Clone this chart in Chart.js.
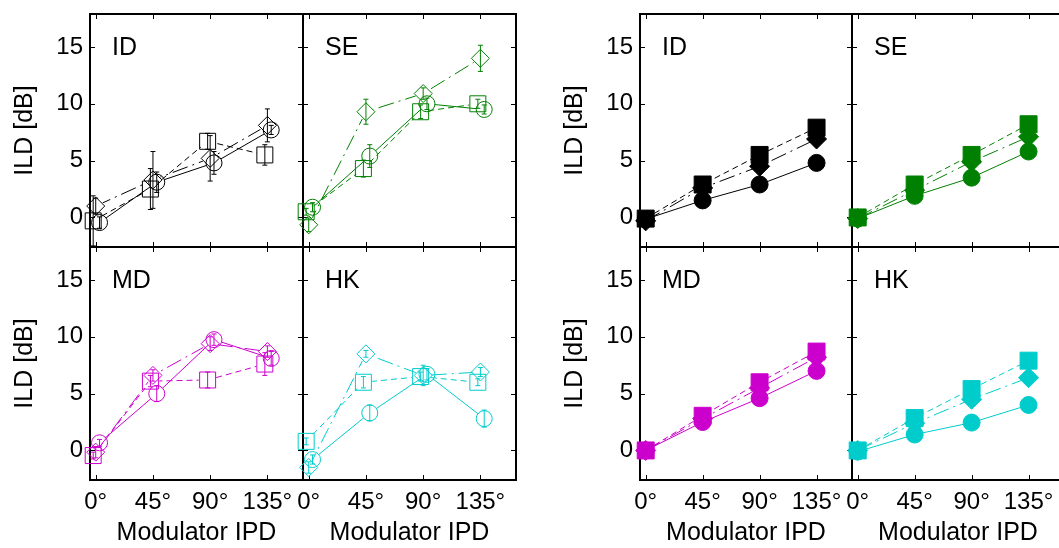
<!DOCTYPE html>
<html>
<head>
<meta charset="utf-8">
<script src="https://cdn.jsdelivr.net/npm/chart.js@4.4.0/dist/chart.umd.min.js"></script>
<style>
html, body { margin: 0; padding: 0; background: #fff; overflow: hidden; }
body { width: 1059px; height: 548px; position: relative; }
canvas { position: absolute; }
</style>
</head>
<body>
<script>
const ipd = [0, 45, 90, 135];
const ipdLabels = ['0°', '45°', '90°', '135°'];
const ildTicks = [0, 5, 10, 15];
const listeners = ['ID', 'SE', 'MD', 'HK'];
const listenerColors = ['#000000', '#008000', '#cc00cc', '#00cccc'];

// measured ILD [dB], open symbols, with error bars
const obsIdCircle = [-0.45, 3.1, 4.8, 7.7];
const obsIdCircleErr = [0.5, 0.9, 1.0, 0.4];
const obsIdSquare = [-0.3, 2.5, 6.7, 5.5];
const obsIdSquareErr = [2.2, 1.8, 0.7, 0.9];
const obsIdDiamond = [1.0, 3.3, 5.2, 8.1];
const obsIdDiamondErr = [0.7, 2.5, 2.0, 1.45];

const obsSeCircle = [0.9, 5.4, 10.0, 9.5];
const obsSeCircleErr = [0.4, 1.0, 0.5, 0.4];
const obsSeSquare = [0.5, 4.3, 9.3, 10.0];
const obsSeSquareErr = [0.3, 0.75, 0.6, 0.4];
const obsSeDiamond = [-0.65, 9.3, 10.9, 14.0];
const obsSeDiamondErr = [0.6, 1.1, 0.5, 1.15];

const obsMdCircle = [0.67, 5.0, 9.75, 8.1];
const obsMdCircleErr = [0.3, 0.7, 0.5, 0.6];
const obsMdSquare = [-0.45, 6.1, 6.2, 7.6];
const obsMdSquareErr = [0.3, 0.5, 0.7, 1.0];
const obsMdDiamond = [-0.15, 6.6, 9.4, 8.7];
const obsMdDiamondErr = [0.5, 0.5, 0.6, 0.5];

const obsHkCircle = [-0.8, 3.3, 6.7, 2.8];
const obsHkCircleErr = [0.4, 0.7, 0.5, 0.75];
const obsHkSquare = [0.8, 6.0, 6.5, 6.0];
const obsHkSquareErr = [0.3, 0.5, 0.4, 0.3];
const obsHkDiamond = [-1.5, 8.5, 6.6, 6.9];
const obsHkDiamondErr = [0.5, 0.3, 0.9, 0.4];

// predicted ILD [dB], filled symbols
const predIdCircle = [-0.15, 1.5, 2.9, 4.8];
const predIdSquare = [-0.1, 2.9, 5.5, 7.9];
const predIdDiamond = [-0.3, 2.6, 4.5, 6.9];

const predSeCircle = [-0.1, 1.9, 3.5, 5.8];
const predSeSquare = [0.0, 2.9, 5.5, 8.2];
const predSeDiamond = [-0.1, 2.4, 4.9, 7.1];

const predMdCircle = [0.0, 2.5, 4.6, 7.0];
const predMdSquare = [0.0, 3.05, 6.0, 8.7];
const predMdDiamond = [0.0, 2.8, 5.5, 8.2];

const predHkCircle = [-0.1, 1.4, 2.45, 4.0];
const predHkSquare = [0.0, 2.85, 5.4, 7.9];
const predHkDiamond = [0.0, 2.4, 4.5, 6.4];

const obsSets = [
  [obsIdCircle, obsIdCircleErr, obsIdSquare, obsIdSquareErr, obsIdDiamond, obsIdDiamondErr],
  [obsSeCircle, obsSeCircleErr, obsSeSquare, obsSeSquareErr, obsSeDiamond, obsSeDiamondErr],
  [obsMdCircle, obsMdCircleErr, obsMdSquare, obsMdSquareErr, obsMdDiamond, obsMdDiamondErr],
  [obsHkCircle, obsHkCircleErr, obsHkSquare, obsHkSquareErr, obsHkDiamond, obsHkDiamondErr]
];
const predSets = [
  [predIdCircle, predIdSquare, predIdDiamond],
  [predSeCircle, predSeSquare, predSeDiamond],
  [predMdCircle, predMdSquare, predMdDiamond],
  [predHkCircle, predHkSquare, predHkDiamond]
];

const FONT = '"Liberation Sans", Arial, sans-serif';
const MARGIN = 40;
const Y_AXIS_W = 90;
const X_AXIS_H = 75;

// box with inward ticks on all four sides + panel name
const framePlugin = {
  id: 'frame',
  beforeDatasetsDraw(chart) {
    const {ctx, chartArea: a, scales: {x, y}} = chart;
    ctx.save();
    ctx.strokeStyle = '#000';
    ctx.lineWidth = 1;
    ctx.beginPath();
    ipd.forEach(v => {
      const px = Math.round(x.getPixelForValue(v)) + 0.5;
      ctx.moveTo(px, a.bottom); ctx.lineTo(px, a.bottom - 5);
      ctx.moveTo(px, a.top); ctx.lineTo(px, a.top + 5);
    });
    ildTicks.forEach(v => {
      const py = Math.round(y.getPixelForValue(v)) + 0.5;
      ctx.moveTo(a.left, py); ctx.lineTo(a.left + 5, py);
      ctx.moveTo(a.right, py); ctx.lineTo(a.right - 5, py);
    });
    ctx.stroke();
    ctx.lineWidth = 2;
    ctx.strokeRect(a.left, a.top, a.right - a.left, a.bottom - a.top);
    ctx.fillStyle = '#000';
    ctx.font = '25px ' + FONT;
    ctx.textAlign = 'left';
    ctx.textBaseline = 'alphabetic';
    ctx.fillText(chart.options.plugins.frame.label, a.left + 22, a.top + 41);
    ctx.restore();
  }
};

// connecting lines of open symbols stop at the symbol outline
const lineGapPlugin = {
  id: 'lineGap',
  beforeDatasetDraw(chart, args) {
    const ds = chart.data.datasets[args.index];
    if (!ds.gap) return;
    const {ctx, width, height} = chart;
    ctx.save();
    ctx.beginPath();
    ctx.rect(0, 0, width, height);
    args.meta.data.forEach(pt => {
      ctx.moveTo(pt.x + ds.gap, pt.y);
      ctx.arc(pt.x, pt.y, ds.gap, 0, Math.PI * 2);
    });
    ctx.clip('evenodd');
  },
  afterDatasetDraw(chart, args) {
    if (chart.data.datasets[args.index].gap) chart.ctx.restore();
  }
};

const errorBarPlugin = {
  id: 'errorBars',
  afterDatasetsDraw(chart) {
    const {ctx, scales: {x, y}} = chart;
    chart.data.datasets.forEach(ds => {
      if (!ds.errors) return;
      ctx.save();
      ctx.strokeStyle = ds.pointBorderColor;
      ctx.lineWidth = 1;
      ds.data.forEach((p, i) => {
        const px = x.getPixelForValue(p.x);
        const lo = y.getPixelForValue(p.y - ds.errors[i]);
        const hi = y.getPixelForValue(p.y + ds.errors[i]);
        ctx.beginPath();
        ctx.moveTo(px, lo); ctx.lineTo(px, hi);
        ctx.moveTo(px - 2.5, lo); ctx.lineTo(px + 2.5, lo);
        ctx.moveTo(px - 2.5, hi); ctx.lineTo(px + 2.5, hi);
        ctx.stroke();
      });
      ctx.restore();
    });
  }
};

// marker look per condition: circle solid, square dashed, diamond dash-dot
const shapes = {
  circle: {style: 'circle', open: 8, full: 8.5, gap: 8, dash: [], shift: 3},
  square: {style: 'rect', open: 11.3, full: 12, gap: 9, dash: [6, 4], shift: -2},
  diamond: {style: 'rectRot', open: 9, full: 10, gap: 8, dash: [16, 5, 2, 5], shift: 0}
};

function openSeries(vals, errs, shapeName, color) {
  const s = shapes[shapeName];
  const pts = ipd.map((d, i) => ({x: d + s.shift, y: vals[i]}));
  return [{
    data: pts,
    gap: s.gap,
    borderColor: color,
    borderWidth: 1,
    borderDash: s.dash,
    pointRadius: 0,
    fill: false,
    clip: false
  }, {
    data: pts,
    errors: errs,
    showLine: false,
    pointStyle: s.style,
    pointRadius: s.open,
    pointBorderWidth: 1,
    pointBorderColor: color,
    pointBackgroundColor: 'rgba(0,0,0,0)',
    clip: false
  }];
}

function filledSeries(vals, shapeName, color) {
  const s = shapes[shapeName];
  return [{
    data: ipd.map((d, i) => ({x: d, y: vals[i]})),
    borderColor: color,
    borderWidth: 1,
    borderDash: s.dash,
    pointStyle: s.style,
    pointRadius: s.full,
    pointBorderWidth: 1,
    pointBorderColor: color,
    pointBackgroundColor: color,
    fill: false,
    clip: false
  }];
}

function makePanel(left, top, w, h, showY, showX, label, datasets) {
  const cv = document.createElement('canvas');
  const extraL = showY ? Y_AXIS_W : 0;
  const extraB = showX ? X_AXIS_H : 0;
  const cw = w + 2 * MARGIN + extraL;
  const ch = h + 2 * MARGIN + extraB;
  cv.width = cw; cv.height = ch;
  cv.style.left = (left - MARGIN - extraL) + 'px';
  cv.style.top = (top - MARGIN) + 'px';
  cv.style.width = cw + 'px';
  cv.style.height = ch + 'px';
  document.body.appendChild(cv);

  new Chart(cv.getContext('2d'), {
    type: 'line',
    data: {datasets: datasets},
    options: {
      responsive: false,
      animation: false,
      events: [],
      layout: {padding: MARGIN},
      plugins: {legend: {display: false}, tooltip: {enabled: false}, frame: {label: label}},
      scales: {
        x: {
          type: 'linear', min: -4.5, max: 163,
          afterBuildTicks: s => { s.ticks = ipd.map(v => ({value: v})); },
          afterFit: s => { s.height = extraB; },
          grid: {display: false, drawTicks: false},
          border: {display: false},
          ticks: {
            display: showX, padding: 8, color: '#000', autoSkip: false, maxRotation: 0,
            font: {family: FONT, size: 24},
            callback: (v, i) => ipdLabels[i]
          },
          title: {
            display: showX, text: 'Modulator IPD', color: '#000',
            font: {family: FONT, size: 25}, padding: {top: 0, bottom: 7}
          }
        },
        y: {
          type: 'linear', min: -2.6, max: 17.9,
          afterBuildTicks: s => { s.ticks = ildTicks.map(v => ({value: v})); },
          afterFit: s => { s.width = extraL; },
          grid: {display: false, drawTicks: false},
          border: {display: false},
          ticks: {
            display: showY, padding: 7, color: '#000',
            font: {family: FONT, size: 24},
            callback: v => String(v)
          },
          title: {
            display: showY, text: 'ILD [dB]', color: '#000',
            font: {family: FONT, size: 25}, padding: {top: 10, bottom: 0}
          }
        }
      }
    },
    plugins: [framePlugin, lineGapPlugin, errorBarPlugin]
  });
}

const groupLeft = [90, 640];
const groupW = [213, 212];
const rowTop = [14, 247];
const panelH = 233;

listeners.forEach((name, k) => {
  const col = k % 2, row = Math.floor(k / 2);
  const color = listenerColors[k];
  // open symbols with error bars
  const o = obsSets[k];
  makePanel(groupLeft[0] + col * groupW[0], rowTop[row], groupW[0], panelH, col === 0, row === 1, name, [
    ...openSeries(o[2], o[3], 'square', color),
    ...openSeries(o[4], o[5], 'diamond', color),
    ...openSeries(o[0], o[1], 'circle', color)
  ]);
  // filled symbols
  const p = predSets[k];
  makePanel(groupLeft[1] + col * groupW[1], rowTop[row], groupW[1], panelH, col === 0, row === 1, name, [
    ...filledSeries(p[1], 'square', color),
    ...filledSeries(p[2], 'diamond', color),
    ...filledSeries(p[0], 'circle', color)
  ]);
});
</script>
</body>
</html>
